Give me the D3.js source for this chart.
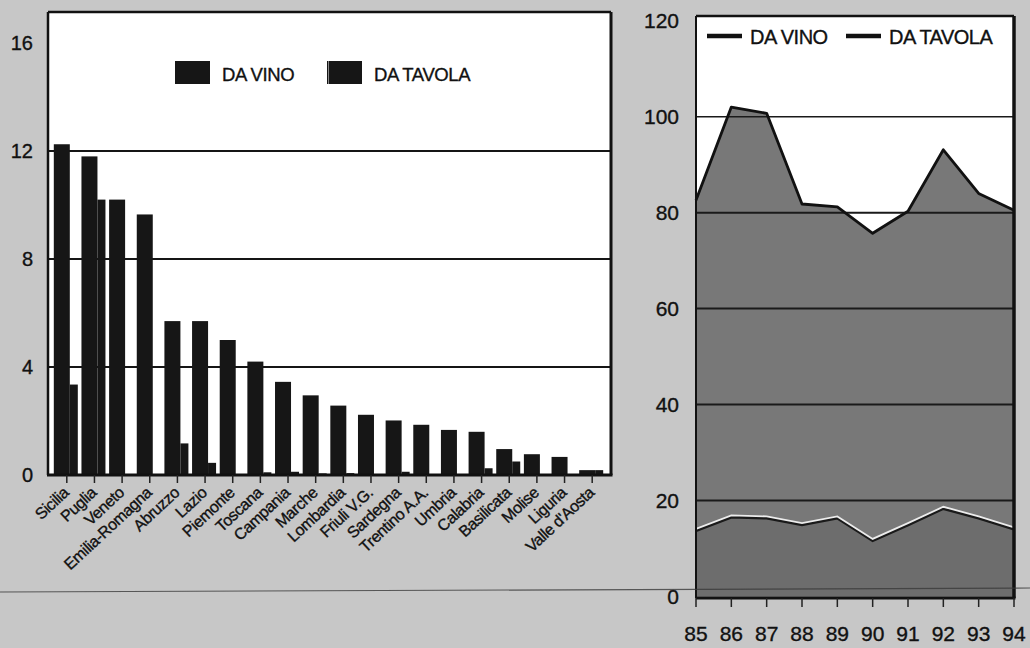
<!DOCTYPE html>
<html><head><meta charset="utf-8">
<script src="https://cdn.jsdelivr.net/npm/d3@7"></script>
<style>
body{margin:0;background:#c7c7c7;}
svg{display:block;font-family:Arial,"Liberation Sans",Helvetica,sans-serif;}
svg text{stroke:#111;stroke-width:0.35px;}
</style>
</head><body>
<svg id="chart" width="1030" height="648"></svg>
<script>
// ---------- data ----------
const regions = ["Sicilia","Puglia","Veneto","Emilia-Romagna","Abruzzo","Lazio","Piemonte","Toscana","Campania","Marche","Lombardia","Friuli V.G.","Sardegna","Trentino A.A.","Umbria","Calabria","Basilicata","Molise","Liguria","Valle d'Aosta"];
const daVinoRegion   = [12.25, 11.8, 10.2, 9.65, 5.7, 5.7, 5.0, 4.2, 3.45, 2.95, 2.57, 2.23, 2.02, 1.86, 1.67, 1.6, 0.96, 0.77, 0.67, 0.18];
const daTavolaRegion = [3.35, 10.2, 0, 0, 1.17, 0.45, 0, 0.1, 0.12, 0.06, 0.07, 0.03, 0.12, 0.02, 0.02, 0.25, 0.5, 0.03, 0.03, 0.18];
const leftTicks = [0, 4, 8, 12, 16];
const leftGrid = [4, 8, 12];

const years = [85, 86, 87, 88, 89, 90, 91, 92, 93, 94];
const daVinoYear   = [82.6, 102.0, 100.7, 81.8, 81.2, 75.7, 80.3, 93.1, 84.0, 80.5];
const daTavolaYear = [14.1, 16.9, 16.7, 15.3, 16.7, 12.0, 15.3, 18.7, 16.7, 14.4];
const rightTicks = [0, 20, 40, 60, 80, 100, 120];
const rightGrid = [20, 40, 60, 80, 100];
const seriesNames = ["DA VINO", "DA TAVOLA"];

const svg = d3.select("#chart");

// ---------- left chart ----------
const L = {x0: 48, x1: 611, y0: 12, y1: 475};
const xL = d3.scalePoint().domain(regions).range([L.x0, L.x1]).padding(0.68);
const yL = d3.scaleLinear().domain([0, 16]).range([L.y1, 43]);

const gL = svg.append("g");
gL.append("rect").attr("x", L.x0).attr("y", L.y0).attr("width", L.x1 - L.x0).attr("height", L.y1 - L.y0).attr("fill", "#fff");

gL.selectAll("line.grid").data(leftGrid).join("line")
  .attr("x1", L.x0).attr("x2", L.x1).attr("y1", d => yL(d)).attr("y2", d => yL(d))
  .attr("stroke", "#151515").attr("stroke-width", 2);

// tavola bars (behind), then vino
gL.selectAll("rect.tav").data(regions).join("rect")
  .attr("x", d => xL(d) + 3).attr("width", 8)
  .attr("y", (d, i) => yL(daTavolaRegion[i])).attr("height", (d, i) => yL(0) - yL(daTavolaRegion[i]))
  .attr("fill", "#161616");
gL.selectAll("rect.vin").data(regions).join("rect")
  .attr("x", d => xL(d) - 13).attr("width", 16)
  .attr("y", (d, i) => yL(daVinoRegion[i])).attr("height", (d, i) => yL(0) - yL(daVinoRegion[i]))
  .attr("fill", "#161616");

// frame
gL.append("line").attr("x1", L.x0).attr("x2", L.x1).attr("y1", L.y0).attr("y2", L.y0).attr("stroke", "#111").attr("stroke-width", 2.5);
gL.append("line").attr("x1", L.x0).attr("x2", L.x0).attr("y1", L.y0).attr("y2", L.y1).attr("stroke", "#111").attr("stroke-width", 2.5);
gL.append("line").attr("x1", L.x1).attr("x2", L.x1).attr("y1", L.y0).attr("y2", L.y1).attr("stroke", "#111").attr("stroke-width", 3);
gL.append("line").attr("x1", L.x0 - 1).attr("x2", L.x1 + 1.5).attr("y1", L.y1).attr("y2", L.y1).attr("stroke", "#111").attr("stroke-width", 3);

// x ticks
gL.selectAll("line.xt").data(regions).join("line")
  .attr("x1", d => xL(d)).attr("x2", d => xL(d)).attr("y1", L.y1).attr("y2", L.y1 + 8)
  .attr("stroke", "#222").attr("stroke-width", 1.5);
gL.selectAll("text.xl").data(regions).join("text")
  .attr("transform", d => `translate(${xL(d) + 3},${L.y1 + 19}) rotate(-43)`)
  .attr("text-anchor", "end").attr("font-size", 16).attr("fill", "#111")
  .attr("letter-spacing", "-0.4")
  .text(d => d);

// y labels
gL.selectAll("text.yl").data(leftTicks).join("text")
  .attr("x", 33).attr("y", d => yL(d)).attr("dy", "0.36em")
  .attr("text-anchor", "end").attr("font-size", 20).attr("fill", "#111")
  .text(d => d);

// legend left
const legL = [{x: 175, name: seriesNames[0]}, {x: 327, name: seriesNames[1]}];
legL.forEach((d, i) => {
  gL.append("rect").attr("x", d.x).attr("y", 61).attr("width", 35).attr("height", 23).attr("fill", "#161616");
  if (i === 1) gL.append("line").attr("x1", d.x + 1.5).attr("x2", d.x + 1.5).attr("y1", 61).attr("y2", 84).attr("stroke", "#888").attr("stroke-width", 1);
  gL.append("text").attr("x", d.x + 47).attr("y", 81).attr("font-size", 18.5).attr("fill", "#111")
    .attr("letter-spacing", "-0.4").text(d.name);
});

// ---------- right chart ----------
const R = {x0: 696, x1: 1014, y0: 16, y1: 598};
const xR = d3.scaleLinear().domain([85, 94]).range([R.x0, R.x1]);
const yR = d3.scaleLinear().domain([0, 120]).range([596.5, 20.7]);

const gR = svg.append("g");
gR.append("rect").attr("x", R.x0).attr("y", R.y0).attr("width", R.x1 - R.x0).attr("height", R.y1 - R.y0).attr("fill", "#fff");

const areaV = d3.area().x((d, i) => xR(years[i])).y0(yR(0)).y1(d => yR(d));
const lineG = d3.line().x((d, i) => xR(years[i])).y(d => yR(d));

gR.append("path").datum(daVinoYear).attr("d", areaV).attr("fill", "#787878");
gR.append("path").datum(daTavolaYear).attr("d", areaV).attr("fill", "#6d6d6d");

gR.selectAll("line.grid").data(rightGrid).join("line")
  .attr("x1", R.x0).attr("x2", R.x1).attr("y1", d => yR(d)).attr("y2", d => yR(d))
  .attr("stroke", "#1a1a1a").attr("stroke-width", d => d === 100 ? 1.5 : 2);

gR.append("path").datum(daVinoYear).attr("d", lineG).attr("fill", "none").attr("stroke", "#111").attr("stroke-width", 2.8).attr("stroke-linejoin", "round");
gR.append("path").datum(daTavolaYear).attr("d", lineG).attr("transform", "translate(0,1.6)").attr("fill", "none").attr("stroke", "#1a1a1a").attr("stroke-width", 3.2);
gR.append("path").datum(daTavolaYear).attr("d", lineG).attr("fill", "none").attr("stroke", "#ececec").attr("stroke-width", 1.8);

// frame
gR.append("line").attr("x1", R.x0).attr("x2", R.x1).attr("y1", R.y0).attr("y2", R.y0).attr("stroke", "#111").attr("stroke-width", 2.5);
gR.append("line").attr("x1", R.x0).attr("x2", R.x0).attr("y1", R.y0).attr("y2", R.y1).attr("stroke", "#111").attr("stroke-width", 2);
gR.append("line").attr("x1", R.x1).attr("x2", R.x1).attr("y1", R.y0).attr("y2", R.y1).attr("stroke", "#111").attr("stroke-width", 3.5);
gR.append("line").attr("x1", R.x0).attr("x2", R.x1 + 1.5).attr("y1", R.y1).attr("y2", R.y1).attr("stroke", "#111").attr("stroke-width", 3);

gR.selectAll("line.xt").data(years).join("line")
  .attr("x1", d => xR(d)).attr("x2", d => xR(d)).attr("y1", R.y1).attr("y2", R.y1 + 9)
  .attr("stroke", "#222").attr("stroke-width", 1.5);
gR.selectAll("text.xl").data(years).join("text")
  .attr("x", d => xR(d)).attr("y", 641).attr("text-anchor", "middle")
  .attr("font-size", 21).attr("fill", "#111").text(d => d);
gR.selectAll("text.yl").data(rightTicks).join("text")
  .attr("x", 679).attr("y", d => yR(d)).attr("dy", "0.36em").attr("text-anchor", "end")
  .attr("font-size", 21).attr("fill", "#111").text(d => d);

// legend right
const legR = [{x: 707, name: seriesNames[0]}, {x: 846, name: seriesNames[1]}];
legR.forEach(d => {
  gR.append("line").attr("x1", d.x).attr("x2", d.x + 35).attr("y1", 36).attr("y2", 36).attr("stroke", "#111").attr("stroke-width", 4.5);
  gR.append("text").attr("x", d.x + 43).attr("y", 43.5).attr("font-size", 20).attr("fill", "#111")
    .attr("letter-spacing", "-0.5").text(d.name);
});

// scanned page rule line
svg.append("line").attr("x1", 0).attr("x2", 1030).attr("y1", 592).attr("y2", 588)
  .attr("stroke", "#3a3a3a").attr("stroke-width", 1.2).attr("opacity", 0.8);
</script>
</body></html>
